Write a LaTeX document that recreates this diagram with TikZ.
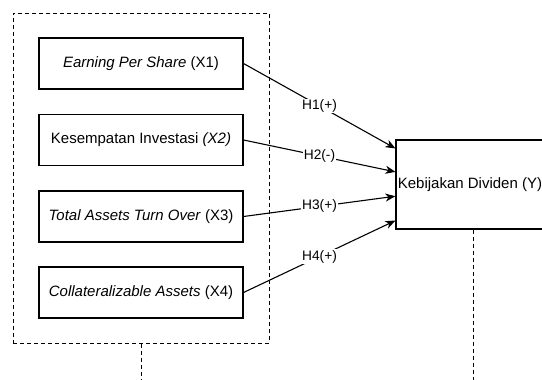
\documentclass[tikz,border=0pt]{standalone}
\usepackage{fontspec}
\setmainfont{Liberation Sans}
\usetikzlibrary{arrows.meta,calc}

\begin{document}
\begin{tikzpicture}[x=1pt,y=-1pt,
  varbox/.style={draw=black, line width=1.1pt, minimum width=204pt,
    minimum height=51pt, inner sep=0pt, font=\fontsize{15}{18}\selectfont},
  ybox/.style={draw=black, line width=1.1pt, minimum width=154pt,
    minimum height=89pt, inner sep=0pt, font=\fontsize{15}{18}\selectfont},
  groupbox/.style={draw=black, line width=1pt, dash pattern=on 4pt off 3pt,
    minimum width=256pt, minimum height=330pt, inner sep=0pt},
  lifeline/.style={draw=black, line width=1pt, dash pattern=on 4pt off 3pt},
  link/.style={draw=black, line width=1.1pt,
    -{Stealth[length=10pt,width=8pt,inset=3pt]}},
  hyp/.style={fill=white, inner sep=1pt, font=\fontsize{13.75}{16}\selectfont}]
\useasboundingbox (0,0) rectangle (542,380);
\clip (0,0) rectangle (542,380);

% grouping frame around the independent variables
\node[groupbox] (grp) at (141,178) {};

% independent variables
\node[varbox] (x1) at (141,63.5) {\textit{Earning Per Share} (X1)};
\node[varbox] (x2) at (141,140) {Kesempatan Investasi \textit{(X2)}};
\node[varbox] (x3) at (141,216.5) {\textit{Total Assets Turn Over} (X3)};
\node[varbox] (x4) at (141,292.5) {\textit{Collateralizable Assets} (X4)};

% dependent variable
\node[ybox] (y) at (473,184.5) {\hspace*{-6pt}Kebijakan Dividen (Y)};

% entry points on the left side of the dependent variable
\coordinate (e1) at ($(y.north west)!0.1!(y.south west)$);
\coordinate (e2) at ($(y.north west)!0.36!(y.south west)$);
\coordinate (e3) at ($(y.north west)!0.63!(y.south west)$);
\coordinate (e4) at ($(y.north west)!0.9!(y.south west)$);

% hypotheses
\draw[link] (x1.east) -- node[hyp] {H1(+)} (e1);
\draw[link] (x2.east) -- node[hyp] {H2(-)} (e2);
\draw[link] (x3.east) -- node[hyp] {H3(+)} (e3);
\draw[link] (x4.east) -- node[hyp] {H4(+)} (e4);

% dashed lines below the frames
\coordinate (gend) at (grp.south |- 0,380);
\coordinate (yend) at (y.south |- 0,380);
\draw[lifeline] (grp.south) -- (gend);
\draw[lifeline] (y.south) -- (yend);
\end{tikzpicture}
\end{document}
